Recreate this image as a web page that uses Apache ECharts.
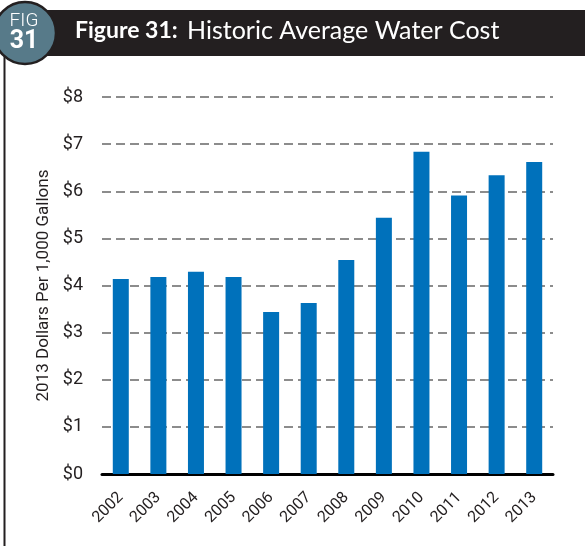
<!DOCTYPE html>
<html>
<head>
<meta charset="utf-8">
<style>
  html, body { margin: 0; padding: 0; background: #ffffff; }
  #chart { width: 585px; height: 546px; }
</style>
<script src="https://cdn.jsdelivr.net/npm/echarts@6/dist/echarts.min.js"></script>
</head>
<body>
<div id="chart"></div>
<script>
// Average water cost per 1,000 gallons, in 2013 dollars
const years = ['2002', '2003', '2004', '2005', '2006', '2007', '2008', '2009', '2010', '2011', '2012', '2013'];
const costs = [4.14, 4.18, 4.29, 4.18, 3.44, 3.63, 4.54, 5.44, 6.84, 5.91, 6.34, 6.62];
const yTicks = [0, 1, 2, 3, 4, 5, 6, 7, 8];

const ink = '#231f20';
const chart = echarts.init(document.getElementById('chart'), null, { renderer: 'canvas' });

chart.setOption({
  animation: false,
  backgroundColor: '#ffffff',
  grid: { left: 102, right: 32, top: 97, bottom: 72, containLabel: false },
  xAxis: {
    type: 'category',
    data: years,
    boundaryGap: true,
    axisLine: { show: true, lineStyle: { color: '#000000', width: 3 } },
    axisTick: { show: false },
    axisLabel: {
      rotate: 45,
      margin: 21,
      color: ink,
      fontFamily: 'Roboto',
      fontSize: 16,
      interval: 0
    },
    splitLine: { show: false }
  },
  yAxis: {
    type: 'value',
    min: yTicks[0],
    max: yTicks[yTicks.length - 1],
    interval: 1,
    name: '2013 Dollars Per 1,000 Gallons',
    nameLocation: 'middle',
    nameGap: 47,
    nameRotate: 90,
    nameTextStyle: { color: ink, fontFamily: 'Roboto', fontSize: 17 },
    axisLine: { show: false },
    axisTick: { show: false },
    axisLabel: {
      color: ink,
      fontFamily: 'Roboto',
      fontSize: 18,
      margin: 19,
      formatter: v => '$' + v
    },
    splitLine: {
      show: true,
      lineStyle: { color: '#8c8c8c', width: 2, type: [9, 5] }
    }
  },
  series: [{
    type: 'bar',
    data: costs,
    barWidth: 16,
    itemStyle: { color: '#0071bb' },
    z: 3
  }],
  graphic: [
    // frame rule down the left side
    { type: 'rect', shape: { x: 3.5, y: 55, width: 2, height: 500 }, style: { fill: ink }, z: 1 },
    // title band
    { type: 'rect', shape: { x: 40, y: 10, width: 545, height: 46 }, style: { fill: ink }, z: 5 },
    {
      type: 'text', left: 75, top: 18, z: 6,
      style: {
        text: '{b|Figure 31:} {r|Historic Average Water Cost}',
        rich: {
          b: { fontFamily: 'Lato', fontWeight: 'bold', fontSize: 23, fill: '#ffffff' },
          r: { fontFamily: 'Lato', fontWeight: 'normal', fontSize: 25, fill: '#ffffff', padding: [0, 0, 0, 6] }
        }
      }
    },
    // figure badge
    { type: 'circle', shape: { cx: 25, cy: 33, r: 31 }, style: { fill: '#577a89', stroke: ink, lineWidth: 2.5 }, z: 7 },
    {
      type: 'text', x: 24, y: 21, z: 8,
      style: { text: 'FIG', fontFamily: 'Roboto', fontWeight: 300, fontSize: 19, fill: '#ffffff', align: 'center', verticalAlign: 'middle' }
    },
    {
      type: 'text', x: 24, y: 42, z: 8,
      style: { text: '31', fontFamily: 'Roboto', fontWeight: 'bold', fontSize: 25, fill: '#ffffff', align: 'center', verticalAlign: 'middle' }
    }
  ]
});
</script>
</body>
</html>
